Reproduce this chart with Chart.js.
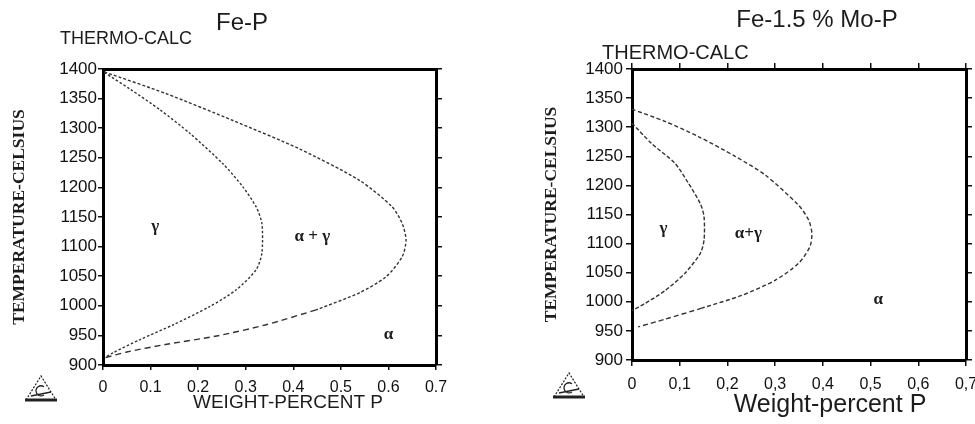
<!DOCTYPE html>
<html>
<head>
<meta charset="utf-8">
<title>Fe-P phase diagrams</title>
<script src="https://cdn.jsdelivr.net/npm/chart.js@4.4.1/dist/chart.umd.min.js"></script>
<style>
  html, body { margin: 0; padding: 0; background: #fff; }
  #wrap { position: relative; width: 975px; height: 424px; overflow: hidden; }
  .box { position: absolute; top: 0; }
</style>
</head>
<body>
<div id="wrap">
  <div class="box" style="left:0px"><canvas id="feP" width="450" height="424"></canvas></div>
  <div class="box" style="left:520px"><canvas id="feMoP" width="455" height="424"></canvas></div>
</div>
<script>
// axis ticks
const tempTicks = [900, 950, 1000, 1050, 1100, 1150, 1200, 1250, 1300, 1350, 1400];
const wtTicksFeP = ['0', '0.1', '0.2', '0.3', '0.4', '0.5', '0.6', '0.7'];
const wtTicksFeMoP = ['0', '0,1', '0,2', '0,3', '0,4', '0,5', '0,6', '0,7'];

// Fe-P : gamma / (alpha+gamma) boundary
const fePGammaWt = [0.003, 0.057, 0.120, 0.183, 0.252, 0.294, 0.322, 0.334, 0.334, 0.322, 0.280, 0.225, 0.148, 0.078, 0.022, 0.003];
const fePGammaT  = [1394, 1366, 1331, 1291, 1240, 1201, 1167, 1139, 1089, 1061, 1027, 999, 968, 943, 921, 912];
// Fe-P : (alpha+gamma) / alpha boundary, upper and lower branch
const fePAlphaUpWt = [0.003, 0.134, 0.273, 0.413, 0.539, 0.608, 0.629, 0.637, 0.629, 0.595, 0.539, 0.448];
const fePAlphaUpT  = [1395, 1358, 1313, 1265, 1212, 1167, 1139, 1111, 1083, 1049, 1022, 993];
const fePAlphaLoWt = [0.448, 0.343, 0.239, 0.134, 0.050, 0.003];
const fePAlphaLoT  = [993, 968, 949, 935, 922, 912];
const fePRegions = ['γ', 'α + γ', 'α'];
const fePRegionWt = [0.11, 0.44, 0.60];
const fePRegionT  = [1134, 1117, 951];

// Fe-1.5 % Mo-P
const moGammaWt = [0, 0.041, 0.090, 0.118, 0.143, 0.151, 0.151, 0.143, 0.111, 0.069, 0.027, 0];
const moGammaT  = [1307, 1272, 1238, 1204, 1169, 1146, 1106, 1083, 1049, 1019, 997, 985];
const moAlphaUpWt = [0, 0.069, 0.139, 0.216, 0.279, 0.349, 0.370, 0.377, 0.373, 0.349, 0.300, 0.230, 0.146];
const moAlphaUpT  = [1331, 1310, 1284, 1250, 1218, 1166, 1141, 1118, 1095, 1066, 1037, 1011, 989];
const moAlphaLoWt = [0.146, 0.069, 0.013];
const moAlphaLoT  = [989, 970, 957];
const moRegions = ['γ', 'α+γ', 'α'];
const moRegionWt = [0.066, 0.244, 0.516];
const moRegionT  = [1126, 1118, 1003];

const pts = (wt, t) => wt.map((x, i) => ({ x: x, y: t[i] }));

const curve = (wt, t, dash) => ({
  data: pts(wt, t),
  showLine: true,
  borderColor: '#333',
  borderWidth: 1.4,
  borderDash: dash,
  pointRadius: 0,
  tension: 0.25,
  fill: false
});

const sans = '"Liberation Sans", Arial, sans-serif';

// extra text: titles, region labels, program logo
const phaseText = {
  id: 'phaseText',
  afterDraw(chart, args, o) {
    const ctx = chart.ctx;
    const xs = chart.scales.x, ys = chart.scales.y;
    ctx.save();
    ctx.fillStyle = '#1c1c1c';
    ctx.textBaseline = 'middle';

    ctx.font = o.titleFont;
    ctx.textAlign = 'center';
    ctx.fillText(o.title, o.titleX, o.titleY);

    ctx.font = o.brandFont;
    ctx.textAlign = 'left';
    ctx.fillText('THERMO-CALC', o.brandX, o.brandY);

    ctx.font = o.xTitleFont;
    ctx.textAlign = 'center';
    ctx.fillText(o.xTitle, o.xTitleX, o.xTitleY);

    ctx.font = 'bold 17px "Liberation Serif", serif';
    o.regions.forEach((r, i) => {
      ctx.fillText(r, xs.getPixelForValue(o.regionWt[i]), ys.getPixelForValue(o.regionT[i]));
    });

    // little triangle logo
    const lx = o.logoX, ly = o.logoY, w = 30, h = 24;
    ctx.strokeStyle = '#222';
    ctx.lineWidth = 1.2;
    ctx.setLineDash([2, 1.5]);
    ctx.beginPath();
    ctx.moveTo(lx, ly + h);
    ctx.lineTo(lx + w / 2, ly);
    ctx.lineTo(lx + w, ly + h);
    ctx.stroke();
    ctx.setLineDash([]);
    ctx.lineWidth = 3;
    ctx.beginPath();
    ctx.moveTo(lx - 1, ly + h);
    ctx.lineTo(lx + w + 1, ly + h);
    ctx.stroke();
    ctx.lineWidth = 1.3;
    ctx.beginPath();
    ctx.arc(lx + w / 2, ly + h * 0.62, 5, 0.3 * Math.PI, 1.7 * Math.PI);
    ctx.moveTo(lx + 5, ly + h - 4);
    ctx.lineTo(lx + w - 5, ly + h - 8);
    ctx.stroke();
    ctx.restore();
  }
};

function makeScales(tickLabels, g) {
  const black = '#111';
  return {
    x: {
      type: 'linear', position: 'bottom', min: 0, max: 0.7,
      ticks: {
        stepSize: 0.1, color: black, font: { family: sans, size: 16 }, padding: g.xPad, maxRotation: 0,
        callback: (v, i) => tickLabels[i]
      },
      grid: { drawOnChartArea: false, tickLength: g.tick, color: black, lineWidth: 1.5 },
      border: { display: true, color: '#000', width: 3 },
      afterFit: s => { s.height = g.xHeight; s.paddingLeft = 0; s.paddingRight = 0; }
    },
    x2: {
      type: 'linear', position: 'top', min: 0, max: 0.7,
      ticks: { stepSize: 0.1, display: false },
      grid: { drawOnChartArea: false, drawTicks: g.topTicks, tickLength: g.tick, color: black, lineWidth: 1.5 },
      border: { display: true, color: '#000', width: 3 },
      afterFit: s => { s.height = g.topTicks ? g.tick : 0; s.paddingLeft = 0; s.paddingRight = 0; }
    },
    y: {
      type: 'linear', position: 'left', min: 900, max: 1400,
      ticks: {
        stepSize: 50, color: black, font: { family: sans, size: 17 }, padding: g.yPad,
        callback: (v, i) => tempTicks[i]
      },
      grid: { drawOnChartArea: false, tickLength: g.tick, color: black, lineWidth: 1.5 },
      border: { display: true, color: '#000', width: 3 },
      title: {
        display: true, text: 'TEMPERATURE-CELSIUS', color: '#1c1c1c',
        font: { family: '"Liberation Serif", serif', size: 17.5, weight: 'bold' },
        padding: { top: 4, bottom: 0 }
      },
      afterFit: s => { s.width = g.yWidth; s.paddingTop = 0; s.paddingBottom = 0; }
    },
    y2: {
      type: 'linear', position: 'right', min: 900, max: 1400,
      ticks: { stepSize: 50, display: false },
      grid: { drawOnChartArea: false, tickLength: 6, color: black, lineWidth: 1.5 },
      border: { display: true, color: '#000', width: 3 },
      afterFit: s => { s.width = 8; s.paddingTop = 0; s.paddingBottom = 0; }
    }
  };
}

function baseOptions(tickLabels, g, text) {
  return {
    responsive: false,
    animation: false,
    layout: { padding: g.padding },
    plugins: { legend: { display: false }, tooltip: { enabled: false }, phaseText: text },
    scales: makeScales(tickLabels, g)
  };
}

new Chart(document.getElementById('feP'), {
  type: 'scatter',
  data: {
    datasets: [
      curve(fePGammaWt, fePGammaT, [2.5, 2]),
      curve(fePAlphaUpWt, fePAlphaUpT, [3, 2]),
      curve(fePAlphaLoWt, fePAlphaLoT, [6, 4])
    ]
  },
  options: baseOptions(wtTicksFeP,
    { padding: { left: 5, top: 69, right: 6, bottom: 0 }, yWidth: 98, xHeight: 59,
      tick: 5, xPad: 8, yPad: 1, topTicks: false },
    { title: 'Fe-P', titleX: 242, titleY: 23, titleFont: '24px ' + sans,
      brandX: 60, brandY: 39, brandFont: '18px ' + sans,
      xTitle: 'WEIGHT-PERCENT P', xTitleX: 288, xTitleY: 403, xTitleFont: '19px ' + sans,
      regions: fePRegions, regionWt: fePRegionWt, regionT: fePRegionT,
      logoX: 26, logoY: 376 }),
  plugins: [phaseText]
});

new Chart(document.getElementById('feMoP'), {
  type: 'scatter',
  data: {
    datasets: [
      curve(moGammaWt, moGammaT, [4, 2]),
      curve(moAlphaUpWt, moAlphaUpT, [4, 2.5]),
      curve(moAlphaLoWt, moAlphaLoT, [5, 3])
    ]
  },
  options: baseOptions(wtTicksFeMoP,
    { padding: { left: 17, top: 63, right: 1, bottom: 0 }, yWidth: 95, xHeight: 64,
      tick: 6, xPad: 9, yPad: 3, topTicks: true },
    { title: 'Fe-1.5 % Mo-P', titleX: 297, titleY: 20, titleFont: '24px ' + sans,
      brandX: 82, brandY: 53, brandFont: '20px ' + sans,
      xTitle: 'Weight-percent P', xTitleX: 310, xTitleY: 405, xTitleFont: '25px ' + sans,
      regions: moRegions, regionWt: moRegionWt, regionT: moRegionT,
      logoX: 34, logoY: 373 }),
  plugins: [phaseText]
});
</script>
</body>
</html>
